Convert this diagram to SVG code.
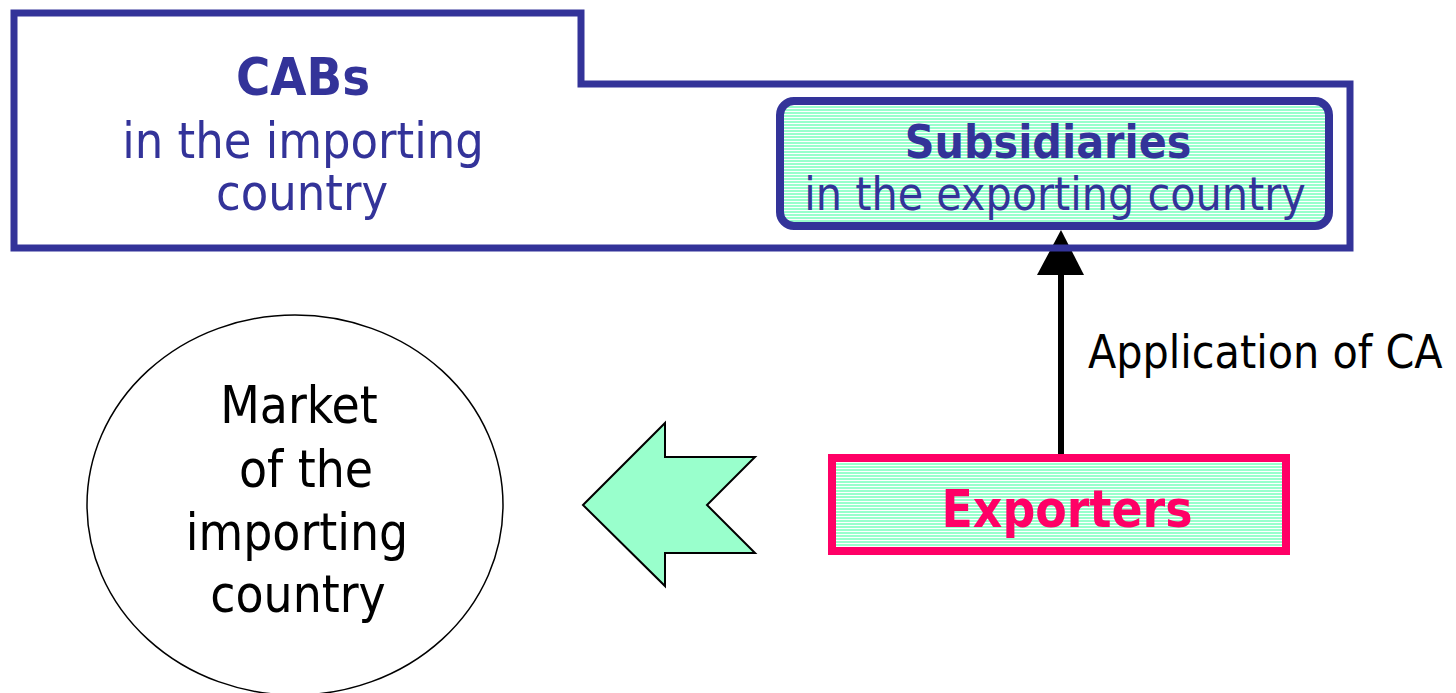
<svg xmlns="http://www.w3.org/2000/svg" width="1456" height="693" viewBox="0 0 1456 693">
  <style>
    .t { font-family: "DejaVu Sans Condensed", "DejaVu Sans", sans-serif; font-stretch: condensed; }
    .blue { fill: #333399; }
    .b { font-weight: bold; }
    .blk { fill: #000000; }
  </style>
  <defs>
    <!-- mint fill with thin white horizontal stripes -->
    <pattern id="stripes" patternUnits="userSpaceOnUse" width="12" height="3">
      <rect width="12" height="3" fill="#99FFCC"/>
      <rect width="12" height="1" fill="#FFFFFF"/>
    </pattern>
  </defs>

  <rect width="1456" height="693" fill="#FFFFFF"/>

  <!-- connectors -->
  <g id="connectors">
    <line x1="1061" y1="455" x2="1061" y2="272" stroke="#000" stroke-width="6"/>
    <polygon points="1061,230 1084,275 1037,275" fill="#000"/>
    <polygon id="market-arrow" points="583,505 665,423 665,457 755,457 707,505 755,553 665,553 665,586" fill="#99FFCC" stroke="#000" stroke-width="2" stroke-linejoin="miter"/>
    <text class="t blk" x="1088" y="368" font-size="46">Application of CA</text>
  </g>

  <!-- CABs in the importing country (outer frame) -->
  <g id="cabs">
    <path d="M14,13 H581 V84 H1350 V248 H14 Z" fill="none" stroke="#333399" stroke-width="7"/>
    <text class="t blue b" x="303" y="95" font-size="52" text-anchor="middle">CABs</text>
    <text class="t blue" x="303" y="158" font-size="50" text-anchor="middle">in the importing</text>
    <text class="t blue" x="302" y="210" font-size="50" text-anchor="middle">country</text>
  </g>

  <!-- Subsidiaries in the exporting country -->
  <g id="subsidiaries">
    <rect x="780" y="101" width="549" height="125" rx="14" fill="url(#stripes)" stroke="#333399" stroke-width="8"/>
    <text class="t blue b" x="1048" y="158" font-size="46" text-anchor="middle">Subsidiaries</text>
    <text class="t blue" x="1055" y="210" font-size="46" text-anchor="middle">in the exporting country</text>
  </g>

  <!-- Exporters -->
  <g id="exporters">
    <rect x="832" y="458" width="454" height="93" fill="url(#stripes)" stroke="#FF0066" stroke-width="8"/>
    <text class="t b" x="1067" y="527" font-size="51" text-anchor="middle" fill="#FF0066">Exporters</text>
  </g>

  <!-- Market of the importing country -->
  <g id="market">
    <ellipse cx="295" cy="505" rx="208" ry="190" fill="#FFFFFF" stroke="#000" stroke-width="1.5"/>
    <text class="t blk" x="299" y="423" font-size="51" text-anchor="middle">Market</text>
    <text class="t blk" x="306" y="487" font-size="51" text-anchor="middle">of the</text>
    <text class="t blk" x="297" y="550" font-size="51" text-anchor="middle">importing</text>
    <text class="t blk" x="298" y="612" font-size="51" text-anchor="middle">country</text>
  </g>
</svg>
